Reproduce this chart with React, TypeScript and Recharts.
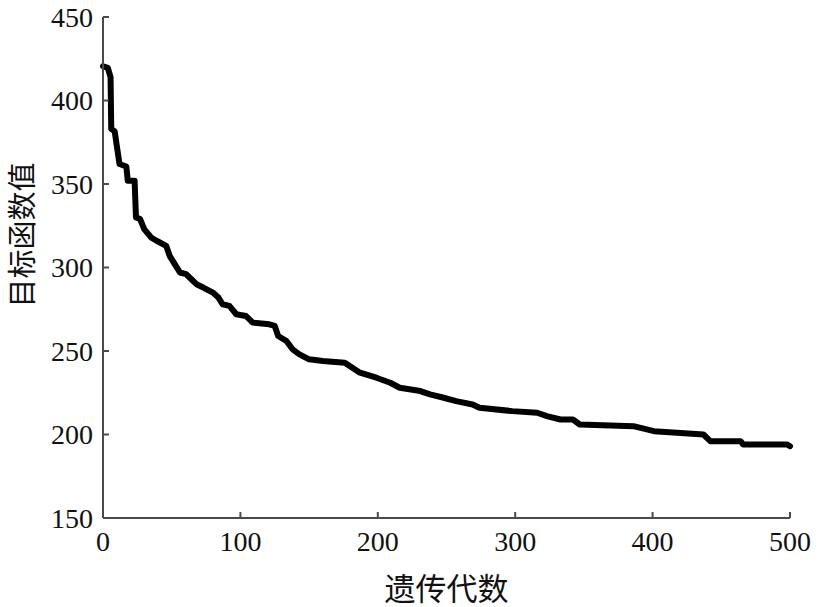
import { LineChart, Line, XAxis, YAxis } from "recharts";

// generation number at each corner of the convergence curve
const generations = [
  0, 3.5, 5.5, 6, 8.5, 12, 17, 18, 23, 24, 27, 30, 35, 39, 46, 48.5, 53, 56, 60.5, 63,
  68, 73, 80, 84, 87, 92, 97, 104, 109, 121, 125, 127.5, 133.5, 138, 143, 150, 160, 176,
  187, 199, 209, 216, 231, 238, 248, 257, 269, 274, 298, 316, 323, 333, 342, 347, 386,
  401, 437, 442, 464, 466, 498, 500,
];

// objective function value at those generations
const objective = [
  420.5, 419.5, 414, 383, 381.5, 362, 360.5, 352, 352, 330, 329, 323, 318, 316, 313, 307,
  301, 297, 296, 294, 290, 288, 285, 282, 278, 277, 272, 271, 267, 266, 265, 259, 256,
  251, 248, 245, 244, 243, 237, 234, 231, 228, 226, 224, 222, 220, 218, 216, 214, 213,
  211, 209, 209, 206, 205, 202, 200, 196, 196, 194, 194, 193,
];

const xTicks = [0, 100, 200, 300, 400, 500];
const yTicks = [150, 200, 250, 300, 350, 400, 450];

const xTitle = "遗传代数";
const yTitle = "目标函数值";

const data = generations.map((g, i) => ({ gen: g, value: objective[i] }));

const AXIS = "#4a4a4a";

function XTick({ x, y, payload }: any) {
  return (
    <g>
      <line x1={x} x2={x} y1={y} y2={y - 6} stroke={AXIS} strokeWidth={2} />
      <text x={x} y={y + 33} textAnchor="middle" fontFamily="Liberation Serif" fontSize={28} fill="#111">
        {payload.value}
      </text>
    </g>
  );
}

function YTick({ x, y, payload }: any) {
  return (
    <g>
      <line x1={x} x2={x + 6} y1={y} y2={y} stroke={AXIS} strokeWidth={2} />
      <text x={x - 10} y={y + 9.5} textAnchor="end" fontFamily="serif" fontSize={28} fill="#111">
        {payload.value}
      </text>
    </g>
  );
}

export default function App() {
  return (
    <div style={{ position: "fixed", left: 0, top: 0, width: 819, height: 607, background: "#fff" }}>
      <LineChart width={819} height={607} data={data} margin={{ top: 17, right: 29, bottom: 0, left: 0 }}>
        <XAxis
          type="number"
          dataKey="gen"
          domain={[0, 500]}
          ticks={xTicks}
          height={89}
          tickSize={0}
          tickMargin={0}
          tickLine={false}
          tick={<XTick />}
          axisLine={{ stroke: AXIS, strokeWidth: 2 }}
          label={(p: any) => (
            <text
              x={p.viewBox.x + p.viewBox.width / 2}
              y={586}
              textAnchor="middle"
              dominantBaseline="central"
              fontFamily="Noto Sans CJK SC"
              fontSize={31}
              fill="#111"
            >
              {xTitle}
            </text>
          )}
        />
        <YAxis
          type="number"
          domain={[150, 450]}
          ticks={yTicks}
          width={103}
          tickSize={0}
          tickMargin={0}
          tickLine={false}
          tick={<YTick />}
          axisLine={{ stroke: AXIS, strokeWidth: 2 }}
          allowDataOverflow
          label={() => (
            <text
              x={20}
              y={235}
              transform="rotate(-90 20 235)"
              textAnchor="middle"
              dominantBaseline="central"
              fontFamily="Noto Sans CJK SC"
              fontSize={29}
              fill="#111"
            >
              {yTitle}
            </text>
          )}
        />
        <Line
          type="linear"
          dataKey="value"
          stroke="#000"
          strokeWidth={6}
          strokeLinejoin="round"
          strokeLinecap="round"
          dot={false}
          activeDot={false}
          isAnimationActive={false}
        />
      </LineChart>
    </div>
  );
}
